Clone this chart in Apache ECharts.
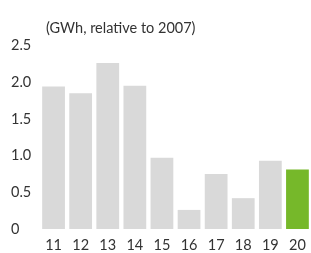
<!DOCTYPE html>
<html>
<head>
<meta charset="utf-8">
<script src="https://cdn.jsdelivr.net/npm/echarts@6/dist/echarts.min.js"></script>
<style>
html, body { margin: 0; padding: 0; background: #fff; }
#chart { width: 311px; height: 253px; }
</style>
</head>
<body>
<div id="chart"></div>
<script>
var years = ['11', '12', '13', '14', '15', '16', '17', '18', '19', '20'];
var values = [1.94, 1.85, 2.26, 1.95, 0.97, 0.26, 0.75, 0.42, 0.93, 0.81];
var highlight = '20';

var chart = echarts.init(document.getElementById('chart'));
var font = 'Lato, "DejaVu Sans", sans-serif';

option = {
    animation: false,
    title: {
        text: '(GWh, relative to 2007)',
        left: 41,
        top: 16,
        textStyle: {
            fontFamily: font,
            fontSize: 14.5,
            fontWeight: 'normal',
            color: '#333'
        }
    },
    grid: {
        left: 40,
        right: -3,
        top: 45.5,
        bottom: 19.5
    },
    xAxis: {
        type: 'category',
        data: years,
        axisLine: { show: false },
        axisTick: { show: false },
        axisLabel: {
            margin: 9,
            fontFamily: font,
            fontSize: 14.5,
            color: '#333'
        }
    },
    yAxis: {
        type: 'value',
        min: 0,
        max: 2.5,
        interval: 0.5,
        splitLine: { show: false },
        axisLine: { show: false },
        axisTick: { show: false },
        axisLabel: {
            align: 'left',
            margin: 29,
            fontFamily: font,
            fontSize: 14.5,
            color: '#333',
            formatter: function (v) {
                return v === 0 ? '0' : v.toFixed(1);
            }
        }
    },
    series: [
        {
            type: 'bar',
            barCategoryGap: '16%',
            data: values.map(function (v, i) {
                return {
                    value: v,
                    itemStyle: { color: years[i] === highlight ? '#76b82a' : '#d9d9d9' }
                };
            })
        }
    ]
};

chart.setOption(option);
</script>
</body>
</html>
